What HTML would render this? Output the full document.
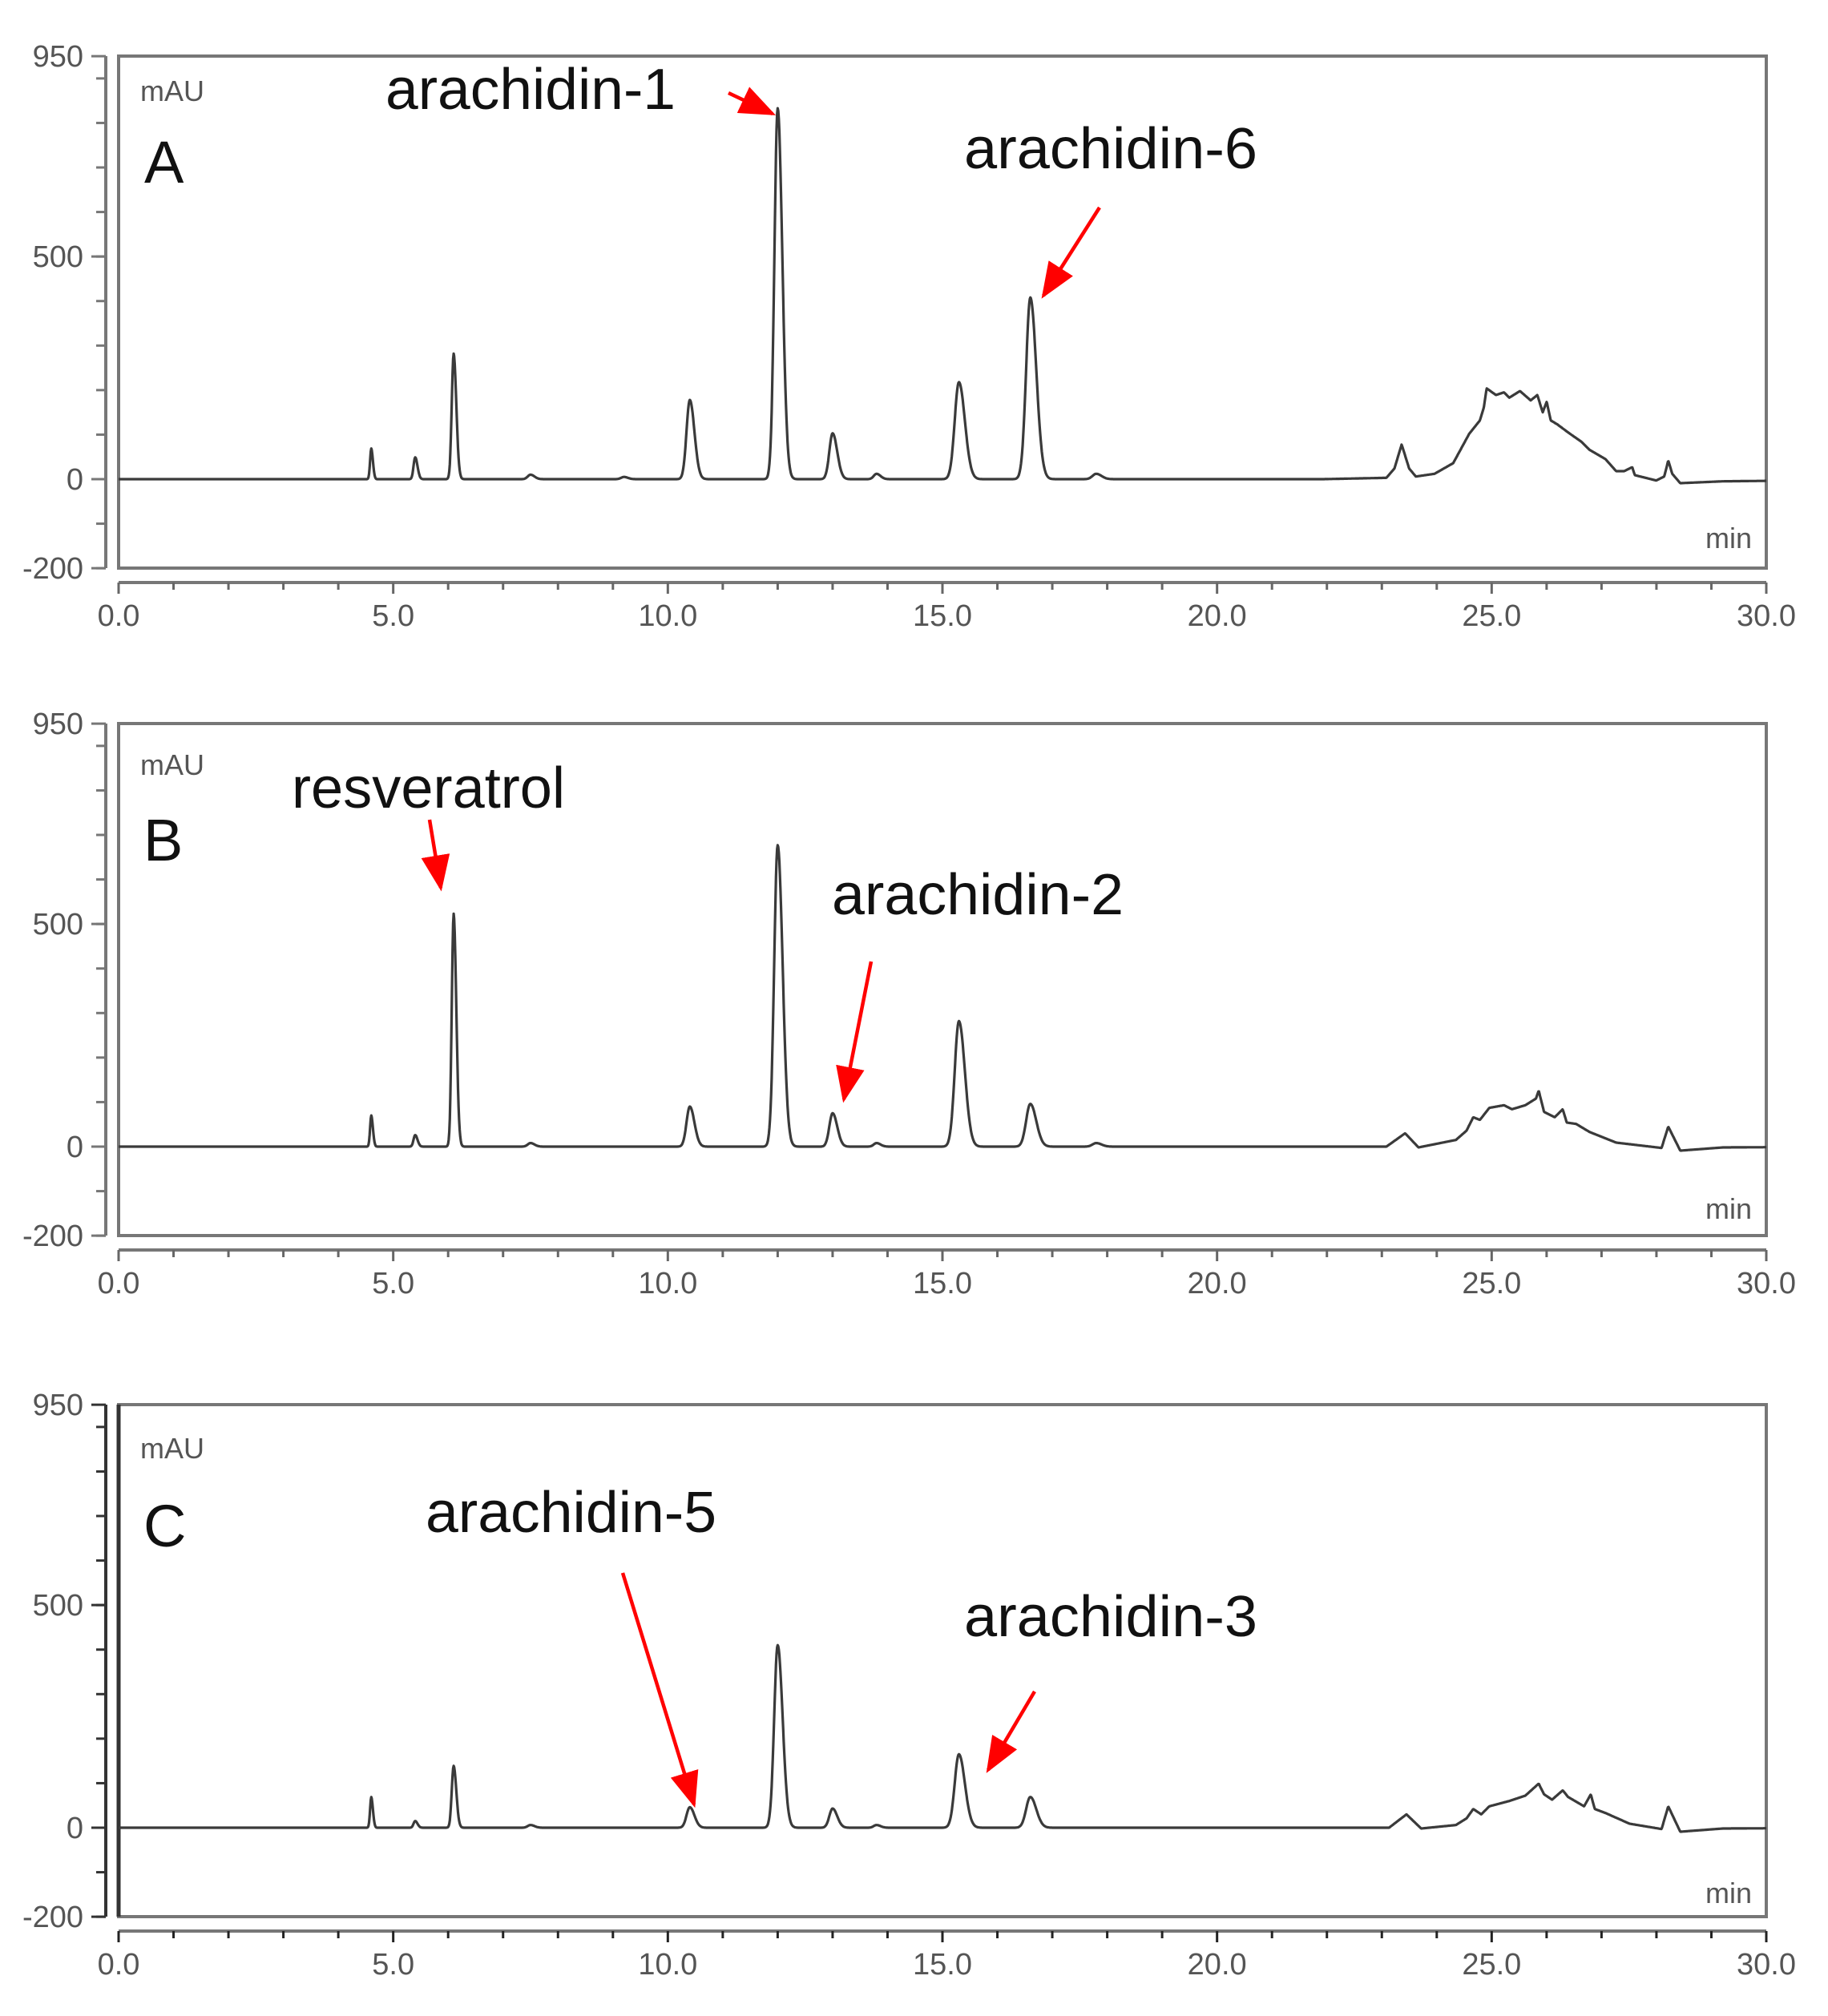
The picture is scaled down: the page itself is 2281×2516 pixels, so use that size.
<!DOCTYPE html>
<html><head><meta charset="utf-8"><style>
html,body{margin:0;padding:0;background:#fff;}
svg{display:block;}
</style></head><body>
<svg id="s" width="2281" height="2516" viewBox="0 0 2281 2516" xmlns="http://www.w3.org/2000/svg" font-family="Liberation Sans, Arial, sans-serif">
<defs>
<marker id="ah" markerWidth="10" markerHeight="8" refX="9" refY="4" orient="auto" markerUnits="strokeWidth"><polygon points="0,0 10,4 0,8" fill="#ff0000"/></marker>
</defs>
<g id="g"></g>
<text x="175" y="126" font-size="36" fill="#555">mAU</text>
<text x="180" y="228" font-size="74" fill="#111">A</text>
<text x="481" y="136" font-size="72" fill="#111" textLength="362" lengthAdjust="spacingAndGlyphs">arachidin-1</text>
<text x="1203" y="210" font-size="72" fill="#111" textLength="366" lengthAdjust="spacingAndGlyphs">arachidin-6</text>
<text x="2128" y="684" font-size="36" fill="#555">min</text>
<line x1="909" y1="116" x2="964" y2="142" stroke="#f00" stroke-width="4.5" marker-end="url(#ah)"/>
<line x1="1372" y1="259" x2="1302" y2="369" stroke="#f00" stroke-width="4.5" marker-end="url(#ah)"/>
<text x="175" y="967" font-size="36" fill="#555">mAU</text>
<text x="179" y="1074" font-size="74" fill="#111">B</text>
<text x="364" y="1008" font-size="72" fill="#111" textLength="341" lengthAdjust="spacingAndGlyphs">resveratrol</text>
<text x="1038" y="1141" font-size="72" fill="#111" textLength="364" lengthAdjust="spacingAndGlyphs">arachidin-2</text>
<text x="2128" y="1521" font-size="36" fill="#555">min</text>
<line x1="536" y1="1023" x2="550" y2="1108" stroke="#f00" stroke-width="4.5" marker-end="url(#ah)"/>
<line x1="1087" y1="1200" x2="1053" y2="1372" stroke="#f00" stroke-width="4.5" marker-end="url(#ah)"/>
<text x="175" y="1820" font-size="36" fill="#555">mAU</text>
<text x="179" y="1930" font-size="74" fill="#111">C</text>
<text x="531" y="1912" font-size="72" fill="#111" textLength="363" lengthAdjust="spacingAndGlyphs">arachidin-5</text>
<text x="1203" y="2042" font-size="72" fill="#111" textLength="366" lengthAdjust="spacingAndGlyphs">arachidin-3</text>
<text x="2128" y="2375" font-size="36" fill="#555">min</text>
<line x1="777" y1="1963" x2="866" y2="2252" stroke="#f00" stroke-width="4.5" marker-end="url(#ah)"/>
<line x1="1291" y1="2111" x2="1233" y2="2209" stroke="#f00" stroke-width="4.5" marker-end="url(#ah)"/>
</svg>
<script>
(function(){
var NS="http://www.w3.org/2000/svg",g=document.getElementById("g");
function el(t,a,txt){var e=document.createElementNS(NS,t);for(var k in a)e.setAttribute(k,a[k]);if(txt!=null)e.textContent=txt;g.appendChild(e);return e;}
var L=148,R=2204,PX=(R-L)/30,SC=0.5557;
function humpPts(arr,by){var o=[];for(var i=0;i<arr.length;i+=2){var x=1650+arr[i]/3;o.push([(x-L)/PX,(by-arr[i+1])/1.667]);}return o;}
var panels=[
 {off:0,dark:false,peaks:[[4.6,69,.025],[5.4,49,.035],[6.1,282,.04],[7.5,10,.06],[9.2,5,.06],[10.4,178,.07],[12.0,833,.07],[13.0,103,.07],[13.8,12,.06],[15.3,218,.09],[16.6,408,.09],[17.8,12,.08]],
  hump:humpPts([0,470,240,465,270,430,297,340,325,430,350,460,420,450,490,410,550,300,590,250,605,200,615,130,650,155,680,145,700,165,740,140,780,175,805,155,825,220,840,180,855,250,880,265,920,295,970,330,1000,360,1060,395,1100,440,1130,440,1160,425,1170,455,1250,475,1280,460,1295,400,1310,450,1340,485,1500,478,1700,476],470)},
 {off:833,dark:false,peaks:[[4.6,70,.025],[5.4,26,.035],[6.1,523,.04],[7.5,8,.06],[10.4,90,.07],[12.0,677,.075],[13.0,75,.07],[13.8,8,.06],[15.3,282,.09],[16.6,96,.09],[17.8,8,.08]],
  hump:humpPts([0,295,240,295,310,245,360,298,500,270,540,235,565,185,590,195,625,150,680,140,710,155,760,140,800,115,810,85,830,165,870,185,900,155,915,205,950,210,1000,240,1100,280,1270,300,1295,220,1340,310,1500,298,1700,297],295)},
 {off:1683,dark:true,peaks:[[4.6,69,.025],[5.4,15,.035],[6.1,139,.04],[7.5,6,.06],[10.4,46,.07],[12.0,410,.075],[13.0,43,.07],[13.8,6,.06],[15.3,165,.09],[16.6,69,.09]],
  hump:humpPts([0,265,250,265,315,215,370,268,500,255,540,230,565,195,595,215,625,185,700,165,760,145,810,100,830,140,860,160,900,125,920,150,980,185,1005,140,1020,195,1060,210,1150,250,1270,270,1295,185,1340,280,1500,268,1700,267],265)}
];
panels.forEach(function(p){
 var o=p.off,top=70+o,zero=598+o,bot=709+o,ax=727+o,lab=781+o;
 var fc=p.dark?"#333":"#777";
 el("rect",{x:L,y:top,width:R-L,height:bot-top,fill:"none",stroke:"#777","stroke-width":4});
 if(p.dark){el("line",{x1:L,y1:top,x2:L,y2:bot,stroke:"#333","stroke-width":5});}
 el("line",{x1:132,y1:top,x2:132,y2:bot,stroke:fc,"stroke-width":4});
 for(var v=-200;v<=950;v+=100){var yy=zero-v*SC;el("line",{x1:120,y1:yy,x2:132,y2:yy,stroke:fc,"stroke-width":3});}
 [950,500,0,-200].forEach(function(v){var yy=zero-v*SC;el("line",{x1:114,y1:yy,x2:132,y2:yy,stroke:fc,"stroke-width":3});
   el("text",{x:104,y:yy+13,"font-size":38,fill:"#555","text-anchor":"end"},String(v));});
 el("line",{x1:L,y1:ax,x2:R,y2:ax,stroke:"#777","stroke-width":4});
 for(var t=0;t<=30;t++){var xx=L+t*PX;var len=(t%5==0)?14:9;el("line",{x1:xx,y1:ax,x2:xx,y2:ax+len,stroke:p.dark?"#222":"#666","stroke-width":3});}
 for(var t=0;t<=30;t+=5){el("text",{x:L+t*PX,y:lab,"font-size":38,fill:"#555","text-anchor":"middle"},t.toFixed(1));}
 var h=p.hump,h0=h[0][0],h1=h[h.length-1][0];
 function hv(t){if(t<h0||t>h1)return 0;for(var i=1;i<h.length;i++){if(t<=h[i][0]){var a=h[i-1],b=h[i];var f=(t-a[0])/((b[0]-a[0])||1);return a[1]+(b[1]-a[1])*f;}}return 0;}
 var d="";
 for(var t=0;t<=30.0001;t+=0.01){var v=hv(t);p.peaks.forEach(function(k){var s=t<k[0]?k[2]*0.85:k[2]*1.2;v+=k[1]*Math.exp(-0.5*Math.pow((t-k[0])/s,2));});
  var xx=L+t*PX,yy=zero-v*SC;d+=(d?"L":"M")+xx.toFixed(1)+","+yy.toFixed(1);}
 el("path",{d:d,fill:"none",stroke:"#3a3a3a","stroke-width":3.2,"stroke-linejoin":"round"});
});
})();
</script>
</body></html>
